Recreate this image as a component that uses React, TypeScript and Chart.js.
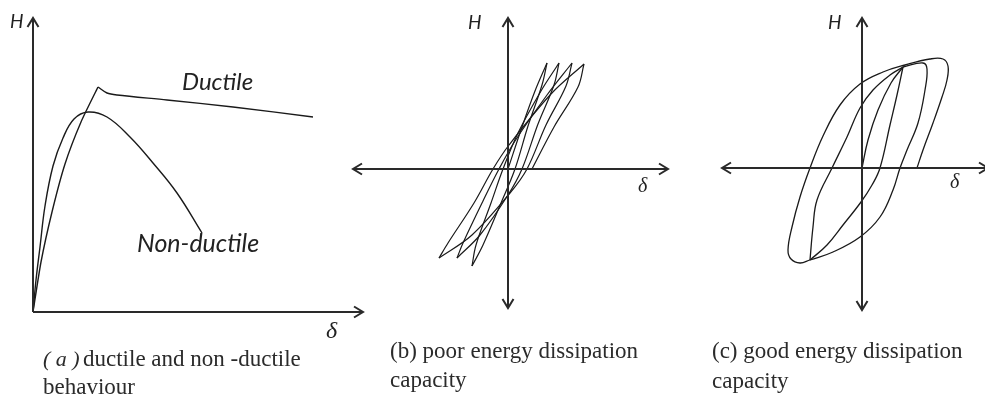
import { useEffect, useRef } from 'react';
import { Chart, registerables } from 'chart.js';
Chart.register(...registerables);

const W = 985;
const HGT = 401;
const PX = 10; // pixels per data unit (layout)

// ---- Panel (a): monotonic H–δ curves ----
const ductileRise = [[0, 0], [0.8, 5.0], [1.9, 10.0], [3.2, 14.8], [4.8, 19.0], [6.5, 22.5]];
const ductileFall = [[6.5, 22.5], [7.4, 21.9], [8.4, 21.7], [13.4, 21.2], [20.0, 20.5], [28.0, 19.5]];
const nonDuctile = [[0, 0], [0.3, 3.2], [0.7, 6.5], [1.2, 10.6], [2.0, 14.6], [3.0, 17.4], [4.1, 19.3], [5.5, 20.0], [7.4, 19.5], [9.7, 17.5], [12.0, 14.9], [14.4, 11.9], [16.9, 7.9]];

// ---- Panel (b): poor energy dissipation (thin pinched loops) ----
const poorBranches = [
  [[0, 0], [1.4, 4.2], [2.7, 7.8], [3.9, 10.6]],
  [[3.9, 10.6], [3.4, 8.4], [2.0, 4.3], [0.7, 0], [-0.7, -3.4], [-2.5, -7.6], [-3.6, -9.7]],
  [[-3.6, -9.7], [-3.2, -7.6], [-1.7, -3.4], [-0.5, 0], [1.0, 3.6], [3.3, 7.8], [5.1, 10.6]],
  [[5.1, 10.6], [4.6, 8.4], [3.0, 4.5], [1.4, 0], [0.0, -2.6], [-2.8, -6.6], [-5.1, -8.9]],
  [[-5.1, -8.9], [-4.5, -7.4], [-2.5, -3.2], [-0.9, 0], [0.7, 2.8], [3.9, 7.4], [6.4, 10.6]],
  [[6.4, 10.6], [5.8, 8.3], [3.8, 4.4], [1.9, 0], [0.2, -2.4], [-3.6, -6.6], [-6.9, -8.9]],
  [[-6.9, -8.9], [-6.0, -7.4], [-3.4, -3.4], [-1.5, 0], [0.1, 2.4], [4.3, 7.5], [7.6, 10.5]],
  [[7.6, 10.5], [7.0, 8.2], [4.6, 4.2], [2.4, 0]],
];

// ---- Panel (c): good energy dissipation (fat loops) ----
const goodBranches = [
  [[0, 0], [0.6, 2.8], [1.6, 5.8], [2.9, 8.5], [4.1, 10.1]],
  [[4.1, 10.1], [3.5, 7.3], [2.8, 4.3], [1.8, 0], [1.0, -1.7], [-0.1, -3.4], [-1.9, -5.7], [-3.5, -7.7], [-5.2, -9.2]],
  [[-5.2, -9.2], [-4.9, -5.9], [-4.5, -3.2], [-3.0, 0], [-1.5, 3.1], [-0.2, 6.0], [1.1, 7.8], [2.8, 9.3], [4.1, 10.1]],
  [[4.1, 10.1], [6.1, 10.5], [6.5, 9.9], [6.3, 7.8], [5.6, 4.5], [4.5, 1.8], [3.8, 0], [3.1, -2.2], [1.8, -4.9], [-0.2, -6.9], [-2.9, -8.4], [-5.2, -9.2]],
  [[-5.2, -9.2], [-6.2, -9.5], [-7.1, -9.1], [-7.4, -8.2], [-7.0, -5.9], [-6.2, -2.9], [-5.2, 0], [-3.9, 3.2], [-2.2, 6.3], [-0.2, 8.4], [2.1, 9.6], [4.3, 10.3], [6.8, 10.9], [8.1, 10.9], [8.6, 10.2], [8.5, 8.8], [8.0, 7.1], [7.1, 4.5], [6.1, 1.8], [5.5, 0]],
];

// ---- Axis extents (data units) ----
const axisA = { xEnd: 33.0, yEnd: 29.4 };
const axisB = { xMin: -15.5, xMax: 16.0, yMin: -13.9, yMax: 15.1 };
const axisC = { xMin: -14.0, xMax: 12.6, yMin: -14.2, yMax: 15.0 };

// ---- Texts ----
const SANS_I = 'Lato, "Open Sans", sans-serif';
const plotLabels = [
  { panel: 'a', text: 'Ductile', x: 14.9, y: 22.2, font: 'italic 24px ' + SANS_I },
  { panel: 'a', text: 'Non-ductile', x: 10.4, y: 6.0, font: 'italic 25px ' + SANS_I },
  { panel: 'a', text: 'H', x: -2.3, y: 28.4, font: 'italic 19px ' + SANS_I },
  { panel: 'a', text: 'δ', x: 29.3, y: -2.6, font: 'italic 24px "Liberation Serif", serif' },
  { panel: 'b', text: 'H', x: -4.0, y: 14.0, font: 'italic 19px ' + SANS_I },
  { panel: 'b', text: 'δ', x: 13.0, y: -2.3, font: 'italic 20px "Liberation Serif", serif' },
  { panel: 'c', text: 'H', x: -3.4, y: 13.9, font: 'italic 19px ' + SANS_I },
  { panel: 'c', text: 'δ', x: 8.8, y: -2.0, font: 'italic 20px "Liberation Serif", serif' },
];
const captionA = ['ductile and non -ductile', 'behaviour'];
const captionB = ['(b) poor energy dissipation', 'capacity'];
const captionC = ['(c) good energy dissipation', 'capacity'];

// layout: pixel origin of each panel
const ORIGINS: Record<string, [number, number]> = { a: [33, 312], b: [508, 169], c: [862, 168] };

const toXY = (arr: number[][]) => arr.map(([x, y]) => ({ x, y }));

const LINE = '#1a1a1a';
const AXIS = '#2a2a2a';

function curve(panel: string, pts: number[][], extra: any = {}) {
  return {
    data: toXY(pts),
    xAxisID: 'x' + panel,
    yAxisID: 'y' + panel,
    showLine: true,
    borderColor: LINE,
    borderWidth: 1.4,
    pointRadius: 0,
    tension: 0.4,
    fill: false,
    clip: false,
    ...extra,
  };
}

function axisLine(panel: string, pts: number[][], arrowEnds: string[]) {
  return curve(panel, pts, { borderColor: AXIS, borderWidth: 2, tension: 0, arrowEnds });
}

const arrowPlugin = {
  id: 'arrowHeads',
  afterDatasetsDraw(chart: any) {
    const ctx = chart.ctx;
    chart.data.datasets.forEach((ds: any) => {
      if (!ds.arrowEnds) return;
      const xs = chart.scales[ds.xAxisID];
      const ys = chart.scales[ds.yAxisID];
      const p = ds.data.map((d: any) => [xs.getPixelForValue(d.x), ys.getPixelForValue(d.y)]);
      const draw = (tip: number[], from: number[]) => {
        const ang = Math.atan2(tip[1] - from[1], tip[0] - from[0]);
        const len = 9, half = 5.5;
        const bx = tip[0] - len * Math.cos(ang), by = tip[1] - len * Math.sin(ang);
        const nx = -Math.sin(ang) * half, ny = Math.cos(ang) * half;
        ctx.save();
        ctx.strokeStyle = AXIS;
        ctx.lineWidth = 2;
        ctx.lineJoin = 'miter';
        ctx.beginPath();
        ctx.moveTo(bx + nx, by + ny);
        ctx.lineTo(tip[0], tip[1]);
        ctx.lineTo(bx - nx, by - ny);
        ctx.stroke();
        ctx.restore();
      };
      if (ds.arrowEnds.includes('end')) draw(p[p.length - 1], p[p.length - 2]);
      if (ds.arrowEnds.includes('start')) draw(p[0], p[1]);
    });
  },
  afterDraw(chart: any) {
    const ctx = chart.ctx;
    ctx.save();
    ctx.fillStyle = '#222';
    ctx.textBaseline = 'alphabetic';
    ctx.textAlign = 'left';
    plotLabels.forEach((l) => {
      const xs = chart.scales['x' + l.panel];
      const ys = chart.scales['y' + l.panel];
      ctx.font = l.font;
      ctx.fillText(l.text, xs.getPixelForValue(l.x), ys.getPixelForValue(l.y));
    });
    const serif = '"Liberation Serif", "Times New Roman", serif';
    ctx.fillStyle = '#2b2b2b';
    ctx.font = 'italic 22px ' + serif;
    ctx.fillText('( a )', 43, 366);
    ctx.font = '23px ' + serif;
    ctx.fillText(captionA[0], 83, 366);
    ctx.fillText(captionA[1], 43, 394);
    ctx.fillText(captionB[0], 390, 358);
    ctx.fillText(captionB[1], 390, 387);
    ctx.fillText(captionC[0], 712, 358);
    ctx.fillText(captionC[1], 712, 388);
    ctx.restore();
  },
};

function scalePair(panel: string) {
  const [ox, oy] = ORIGINS[panel];
  return {
    ['x' + panel]: { type: 'linear', display: false, min: -ox / PX, max: (W - ox) / PX },
    ['y' + panel]: { type: 'linear', display: false, min: -(HGT - oy) / PX, max: oy / PX },
  };
}

export default function App() {
  const ref = useRef<HTMLCanvasElement | null>(null);
  useEffect(() => {
    if (!ref.current) return;
    const datasets: any[] = [
      axisLine('a', [[0, 0], [0, axisA.yEnd]], ['end']),
      axisLine('a', [[0, 0], [axisA.xEnd, 0]], ['end']),
      axisLine('b', [[axisB.xMin, 0], [axisB.xMax, 0]], ['start', 'end']),
      axisLine('b', [[0, axisB.yMin], [0, axisB.yMax]], ['start', 'end']),
      axisLine('c', [[axisC.xMin, 0], [axisC.xMax, 0]], ['start', 'end']),
      axisLine('c', [[0, axisC.yMin], [0, axisC.yMax]], ['start', 'end']),
      curve('a', ductileRise, { tension: 0.2 }),
      curve('a', ductileFall, { tension: 0.3 }),
      curve('a', nonDuctile, { tension: 0.4 }),
      ...poorBranches.map((b) => curve('b', b, { tension: 0.35, borderWidth: 1.2 })),
      ...goodBranches.map((b) => curve('c', b, { tension: 0.4, borderWidth: 1.3 })),
    ];
    const chart = new Chart(ref.current, {
      type: 'scatter',
      data: { datasets },
      options: {
        animation: false,
        responsive: false,
        maintainAspectRatio: false,
        events: [],
        layout: { padding: 0 },
        plugins: { legend: { display: false }, tooltip: { enabled: false } },
        scales: {
          x: { display: false },
          y: { display: false },
          ...scalePair('a'),
          ...scalePair('b'),
          ...scalePair('c'),
        } as any,
      },
      plugins: [arrowPlugin],
    } as any);
    return () => chart.destroy();
  }, []);
  return (
    <div style={{ position: 'fixed', left: 0, top: 0, width: W, height: HGT, background: '#fff' }}>
      <canvas ref={ref} width={W} height={HGT} style={{ width: W, height: HGT, display: 'block' }} />
    </div>
  );
}
